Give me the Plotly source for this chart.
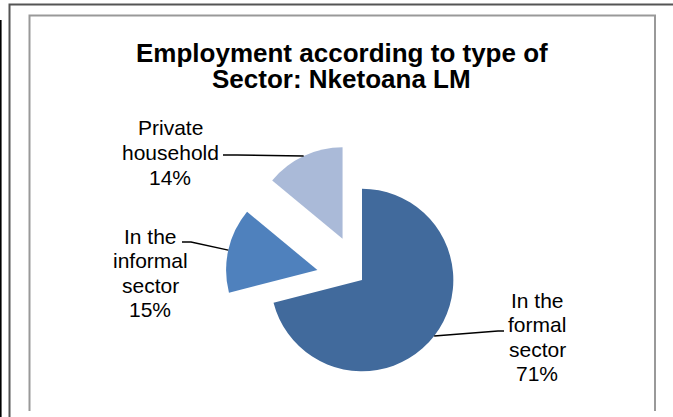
import math
import plotly.graph_objects as go

# ---- data ----
categories = ["In the formal sector", "In the informal sector", "Private household"]
label_lines = [["In the", "formal", "sector"], ["In the", "informal", "sector"], ["Private", "household"]]
percentages = [71, 15, 14]
pulls = [0.0, 0.5, 0.5]
colors = ["#416A9C", "#4F81BD", "#AABAD8"]
title_lines = ["Employment according to type of", "Sector: Nketoana LM"]

W, H = 673, 417
FONT = "Liberation Sans, Arial, sans-serif"

def px(x):
    return x / W

def py(y):
    return 1 - y / H

# pie box (pixels)
cx_px, box = 362, 274
dom_x = [px(cx_px - box / 2), px(cx_px + box / 2)]
dom_y = [0, box / H]
r_px = box / 2 / (1 + max(pulls))
cy_px = H - box / 2

fig = go.Figure(go.Pie(
    labels=categories,
    values=percentages,
    pull=pulls,
    sort=False,
    direction="clockwise",
    rotation=0,
    marker=dict(colors=colors, line=dict(width=0)),
    textinfo="none",
    hoverinfo="label+percent",
    showlegend=False,
    domain=dict(x=dom_x, y=dom_y),
))

# arc points at slice mid-angles, derived from the data
total = sum(percentages)
edge_pts = []
acc = 0
for v, p in zip(percentages, pulls):
    mid = (acc + v / 2) / total * 2 * math.pi
    acc += v
    dx, dy = math.sin(mid), -math.cos(mid)
    edge_pts.append((cx_px + (1 + p) * r_px * dx, cy_px + (1 + p) * r_px * dy))

# label placement (pixels): centre x, first-line y, leader start, leader knee
label_layout = [
    dict(x=537, y0=300, start=(504, 331), knee=(498, 331)),
    dict(x=150, y0=236, start=(182, 242), knee=(191, 242)),
    dict(x=170, y0=128, start=(223, 155), knee=(237, 155)),
]
line_gap = 24.5

annotations = []
shapes = []

# title (two lines, bold)
for k, t in enumerate(title_lines):
    annotations.append(dict(
        text=f"<b>{t}</b>", x=px(341.5), y=py(53 + k * 26),
        xref="paper", yref="paper", showarrow=False,
        xanchor="center", yanchor="middle",
        font=dict(family=FONT, size=26, color="#000000"),
    ))

for i, lay in enumerate(label_layout):
    lines = label_lines[i] + [f"{percentages[i]}%"]
    for k, t in enumerate(lines):
        annotations.append(dict(
            text=t, x=px(lay["x"]), y=py(lay["y0"] + k * line_gap),
            xref="paper", yref="paper", showarrow=False,
            xanchor="center", yanchor="middle",
            font=dict(family=FONT, size=21, color="#000000"),
        ))
    ex, ey = edge_pts[i]
    sx, sy = lay["start"]
    kx, ky = lay["knee"]
    shapes.append(dict(
        type="path", xref="paper", yref="paper",
        path=f"M {px(sx)},{py(sy)} L {px(kx)},{py(ky)} L {px(ex)},{py(ey)}",
        line=dict(color="#000000", width=1.5),
    ))

# frame lines
shapes += [
    dict(type="line", xref="paper", yref="paper", x0=px(0.8), x1=px(0.8), y0=py(20), y1=py(417),
         line=dict(color="#000000", width=1.6)),
    dict(type="path", xref="paper", yref="paper",
         path=f"M {px(9.5)},{py(417)} L {px(9.5)},{py(4.5)} L {px(673)},{py(4.5)}",
         line=dict(color="#555555", width=2)),
    dict(type="path", xref="paper", yref="paper",
         path=f"M {px(29.5)},{py(411)} L {px(29.5)},{py(15.5)} L {px(655)},{py(15.5)} L {px(655)},{py(411)}",
         line=dict(color="#999999", width=2)),
]

fig.update_layout(
    width=W, height=H, autosize=False,
    margin=dict(l=0, r=0, t=0, b=0),
    paper_bgcolor="#FFFFFF", plot_bgcolor="#FFFFFF",
    annotations=annotations,
    shapes=shapes,
)

fig.write_html(
    "out.html",
    config={"displayModeBar": False},
    post_script="document.body.style.margin='0';document.body.style.overflow='hidden';",
)
